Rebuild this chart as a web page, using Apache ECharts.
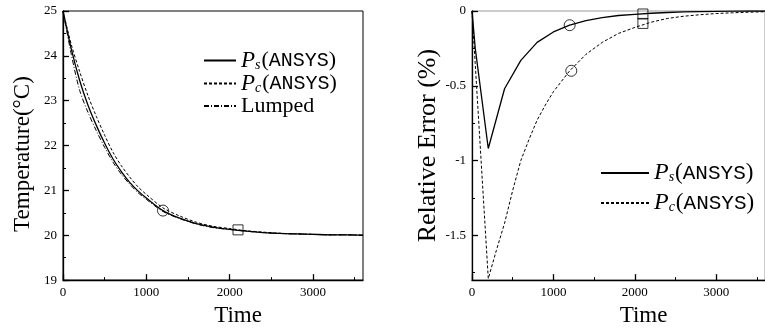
<!DOCTYPE html>
<html>
<head>
<meta charset="utf-8">
<script src="https://cdn.jsdelivr.net/npm/echarts@6/dist/echarts.min.js"></script>
<style>html,body{margin:0;padding:0;background:#fff}#c{width:765px;height:332px}</style>
</head>
<body>
<div id="c"></div>
<script>
// ---- data ----
const timeT = [0,100,200,300,400,500,600,700,800,900,1000,1200,1400,1600,1800,2000,2200,2400,2600,2800,3000,3200,3400,3600];
const tempPs = [25,24.15,23.45,22.9,22.45,22.05,21.7,21.42,21.18,20.99,20.83,20.55,20.38,20.26,20.18,20.13,20.09,20.06,20.04,20.03,20.02,20.01,20.01,20.0];
const tempPc = [25,24.25,23.65,23.11,22.65,22.23,21.85,21.55,21.30,21.08,20.91,20.61,20.43,20.29,20.20,20.15,20.10,20.07,20.045,20.03,20.02,20.01,20.01,20.0];
const tempLumped = [25,24.03,23.23,22.74,22.33,21.96,21.63,21.36,21.14,20.95,20.80,20.53,20.37,20.25,20.17,20.13,20.09,20.06,20.04,20.03,20.02,20.01,20.01,20.0];

const timeErrPs = [0,40,200,400,600,800,1000,1200,1400,1600,1800,2000,2200,2400,2600,2800,3000,3200,3400,3600];
const errPs = [0,-0.25,-0.92,-0.52,-0.33,-0.21,-0.14,-0.095,-0.065,-0.045,-0.03,-0.022,-0.015,-0.01,-0.006,-0.004,-0.002,-0.001,0,0];
const timeErrPc = [0,200,300,400,500,600,700,800,900,1000,1100,1200,1400,1600,1800,2000,2200,2400,2600,2800,3000,3200,3400,3600];
const errPc = [0,-1.79,-1.6,-1.42,-1.2,-1.0,-0.86,-0.73,-0.63,-0.54,-0.47,-0.40,-0.29,-0.21,-0.15,-0.11,-0.075,-0.05,-0.035,-0.025,-0.017,-0.012,-0.008,-0.005];

const markTempCircle = [[1200,20.55]];
const markTempSquare = [[2100,20.12]];
const markErrCircle = [[1200,-0.095],[1220,-0.40]];
const markErrSquare = [[2100,-0.02],[2100,-0.083]];

const timeTicks = [0,1000,2000,3000];
const timeMinor = [500,1500,2500,3500];
const tempTicks = [19,20,21,22,23,24,25];
const tempMinor = [19.5,20.5,21.5,22.5,23.5,24.5];
const errTicks = [0,-0.5,-1,-1.5];
const errMinor = [-0.25,-0.75,-1.25,-1.75];

// ---- chart ----
const SERIF = 'Liberation Serif';
const MONO = 'Liberation Mono';
const pairs = (xs, ys) => xs.map((x, i) => [x, ys[i]]);

function mainAxis(gridIndex, min, max, ticks, extra) {
  return Object.assign({
    type: 'value', gridIndex, min, max,
    axisLine: { show: true, onZero: false, lineStyle: { color: '#000', width: 1.3 } },
    axisTick: { show: true, inside: true, length: 6, customValues: ticks, lineStyle: { color: '#000', width: 1.3 } },
    axisLabel: { customValues: ticks, color: '#000', fontFamily: SERIF, fontSize: 13, margin: 6,
      formatter: v => String(v) },
    splitLine: { show: false }
  }, extra || {});
}
function minorAxis(gridIndex, min, max, ticks, position) {
  return {
    type: 'value', gridIndex, min, max, position,
    axisLine: { show: false, onZero: false },
    axisTick: { show: true, inside: true, length: 3, customValues: ticks, lineStyle: { color: '#000', width: 1 } },
    axisLabel: { show: false },
    splitLine: { show: false }
  };
}

function richLegend(size) {
  return {
    p: { fontFamily: SERIF, fontStyle: 'italic', fontSize: size + 1, color: '#000', lineHeight: 22 },
    s: { fontFamily: SERIF, fontStyle: 'italic', fontSize: Math.round(size * 0.62), color: '#000', padding: [9, 1, 0, 0], lineHeight: 22 },
    q: { fontFamily: SERIF, fontSize: size, color: '#000', lineHeight: 22 },
    m: { fontFamily: MONO, fontSize: size - 2, color: '#000', lineHeight: 22 }
  };
}
function legendFmt(name) {
  if (name === 'Ps') return '{p|P}{s|s}{q|(}{m|ANSYS}{q|)}';
  if (name === 'Pc') return '{p|P}{s|c}{q|(}{m|ANSYS}{q|)}';
  return '{q|' + name + '}';
}

const solid = { color: '#000', width: 1.3, type: 'solid' };
const dashed = { color: '#000', width: 1, type: [3, 2] };
const dashDot = { color: '#000', width: 1, type: [5, 2, 1, 2] };

const chart = echarts.init(document.getElementById('c'), null, { renderer: 'canvas' });
chart.setOption({
  backgroundColor: '#fff',
  animation: false,
  grid: [
    { left: 63, top: 11, width: 300, height: 275, show: true, borderColor: '#000', borderWidth: 1 },
    { left: 472, top: 11, width: 300, height: 274, show: true, borderColor: '#999', borderWidth: 1 }
  ],
  xAxis: [
    mainAxis(0, 0, 3600, timeTicks, { position: 'bottom', name: 'Time', nameLocation: 'middle', nameGap: 19,
      nameTextStyle: { fontFamily: SERIF, fontSize: 23, color: '#000', padding: [0, 0, 0, 50] } }),
    minorAxis(0, 0, 3600, timeMinor, 'bottom'),
    mainAxis(1, 0, 3600, timeTicks, { position: 'bottom', name: 'Time', nameLocation: 'middle', nameGap: 20,
      nameTextStyle: { fontFamily: SERIF, fontSize: 23, color: '#000', padding: [0, 0, 0, 50] } }),
    minorAxis(1, 0, 3600, timeMinor, 'bottom')
  ],
  yAxis: [
    mainAxis(0, 19, 25, tempTicks, { position: 'left', name: 'Temperature(°C)', nameLocation: 'middle', nameGap: 29,
      nameTextStyle: { fontFamily: SERIF, fontSize: 23, color: '#000', padding: [0, 17, 0, 0] } }),
    minorAxis(0, 19, 25, tempMinor, 'left'),
    mainAxis(1, -1.8, 0, errTicks, { position: 'left', name: 'Relative Error (%)', nameLocation: 'middle', nameGap: 29,
      nameTextStyle: { fontFamily: SERIF, fontSize: 26, color: '#000' } }),
    minorAxis(1, -1.8, 0, errMinor, 'left')
  ],
  legend: [
    { orient: 'vertical', left: 198, top: 44, itemWidth: 32, itemHeight: 14, itemGap: 0,
      data: ['Ps', 'Pc', 'Lumped'], formatter: legendFmt, textStyle: { rich: richLegend(22) },
      itemStyle: { opacity: 0 }, selectedMode: false },
    { orient: 'vertical', left: 595, top: 156, itemWidth: 48, itemHeight: 14, itemGap: 6,
      data: ['Ps', 'Pc'], formatter: legendFmt, textStyle: { rich: richLegend(23) },
      itemStyle: { opacity: 0 }, selectedMode: false }
  ],
  series: [
    { name: 'Ps', type: 'line', xAxisIndex: 0, yAxisIndex: 0, data: pairs(timeT, tempPs), symbol: 'none', smooth: 0.3, lineStyle: solid, itemStyle: { color: '#000' } },
    { name: 'Pc', type: 'line', xAxisIndex: 0, yAxisIndex: 0, data: pairs(timeT, tempPc), symbol: 'none', smooth: 0.3, lineStyle: dashed, itemStyle: { color: '#000' } },
    { name: 'Lumped', type: 'line', xAxisIndex: 0, yAxisIndex: 0, data: pairs(timeT, tempLumped), symbol: 'none', smooth: 0.3, lineStyle: dashDot, itemStyle: { color: '#000' } },
    { name: 'mTc', type: 'scatter', xAxisIndex: 0, yAxisIndex: 0, data: markTempCircle, symbol: 'circle', symbolSize: 11,
      itemStyle: { color: 'rgba(0,0,0,0)', borderColor: '#000', borderWidth: 1 } },
    { name: 'mTs', type: 'scatter', xAxisIndex: 0, yAxisIndex: 0, data: markTempSquare, symbol: 'rect', symbolSize: 10,
      itemStyle: { color: 'rgba(0,0,0,0)', borderColor: '#000', borderWidth: 1 } },

    { name: 'Ps', type: 'line', xAxisIndex: 2, yAxisIndex: 2, data: pairs(timeErrPs, errPs), symbol: 'none', lineStyle: solid, itemStyle: { color: '#000' } },
    { name: 'Pc', type: 'line', xAxisIndex: 2, yAxisIndex: 2, data: pairs(timeErrPc, errPc), symbol: 'none', lineStyle: dashed, itemStyle: { color: '#000' } },
    { name: 'mEc', type: 'scatter', xAxisIndex: 2, yAxisIndex: 2, data: markErrCircle, symbol: 'circle', symbolSize: 11,
      itemStyle: { color: 'rgba(0,0,0,0)', borderColor: '#000', borderWidth: 1 } },
    { name: 'mEs', type: 'scatter', xAxisIndex: 2, yAxisIndex: 2, data: markErrSquare, symbol: 'rect', symbolSize: 10,
      itemStyle: { color: 'rgba(0,0,0,0)', borderColor: '#000', borderWidth: 1 } }
  ]
});
</script>
</body>
</html>
